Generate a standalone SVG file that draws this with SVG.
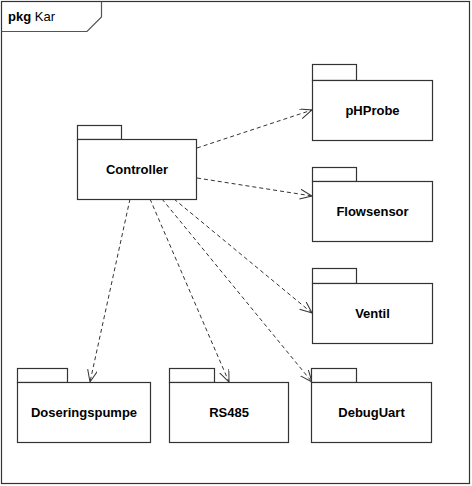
<svg xmlns="http://www.w3.org/2000/svg" width="472" height="486" viewBox="0 0 472 486">
<defs>
<style>
.frame{fill:#fff;stroke:#333;stroke-width:1.2}
.pk{fill:#fff;stroke:#333;stroke-width:1.2}
.lbl{font-family:"Liberation Sans",Arial,sans-serif;font-size:13px;font-weight:bold;fill:#000;text-anchor:middle}
.dep{fill:none;stroke:#333;stroke-width:1;stroke-dasharray:4,3}
</style>
<marker id="open" markerWidth="14" markerHeight="12" refX="12" refY="5" orient="auto" markerUnits="userSpaceOnUse">
<path d="M0,0 L12,5 L0,10" fill="none" stroke="#333" stroke-width="1"/>
</marker>
</defs>
<rect width="472" height="486" fill="#fff"/>
<g id="frame">
<rect class="frame" x="1.5" y="1.5" width="468" height="482"/>
<path d="M1.5,31.5 H87 L101.5,17 V1.5" fill="none" stroke="#555" stroke-width="1.2"/>
<text x="8" y="21" font-family="Liberation Sans,Arial,sans-serif" font-size="13" fill="#000"><tspan font-weight="bold">pkg</tspan> Kar</text>
</g>
<g id="connectors">
<line class="dep" x1="197" y1="148" x2="312" y2="110" marker-end="url(#open)"/>
<line class="dep" x1="197" y1="178" x2="312" y2="196" marker-end="url(#open)"/>
<line class="dep" x1="174" y1="199" x2="312" y2="313" marker-end="url(#open)"/>
<line class="dep" x1="130" y1="199" x2="90" y2="382" marker-end="url(#open)"/>
<line class="dep" x1="150" y1="199" x2="229" y2="382" marker-end="url(#open)"/>
<line class="dep" x1="162" y1="199" x2="312" y2="382" marker-end="url(#open)"/>
</g>
<g id="Controller">
<rect class="pk" x="77.5" y="125.5" width="44" height="14"/>
<rect class="pk" x="77.5" y="139.5" width="119" height="60"/>
<text class="lbl" x="137" y="174">Controller</text>
</g>
<g id="pHProbe">
<rect class="pk" x="312.5" y="64.5" width="44" height="16"/>
<rect class="pk" x="312.5" y="80.5" width="120" height="60"/>
<text class="lbl" x="372.5" y="115">pHProbe</text>
</g>
<g id="Flowsensor">
<rect class="pk" x="312.5" y="167.5" width="44" height="14"/>
<rect class="pk" x="312.5" y="181.5" width="120" height="60"/>
<text class="lbl" x="372.5" y="216">Flowsensor</text>
</g>
<g id="Ventil">
<rect class="pk" x="312.5" y="268.5" width="44" height="15"/>
<rect class="pk" x="312.5" y="283.5" width="120" height="60"/>
<text class="lbl" x="372.5" y="318">Ventil</text>
</g>
<g id="Doseringspumpe">
<rect class="pk" x="17.5" y="368.5" width="50" height="14"/>
<rect class="pk" x="17.5" y="382.5" width="133" height="60"/>
<text class="lbl" x="84" y="417">Doseringspumpe</text>
</g>
<g id="RS485">
<rect class="pk" x="169.5" y="368.5" width="45" height="14"/>
<rect class="pk" x="169.5" y="382.5" width="119" height="60"/>
<text class="lbl" x="229" y="417">RS485</text>
</g>
<g id="DebugUart">
<rect class="pk" x="311.5" y="368.5" width="45" height="14"/>
<rect class="pk" x="311.5" y="382.5" width="120" height="60"/>
<text class="lbl" x="371.5" y="417">DebugUart</text>
</g>
</svg>
